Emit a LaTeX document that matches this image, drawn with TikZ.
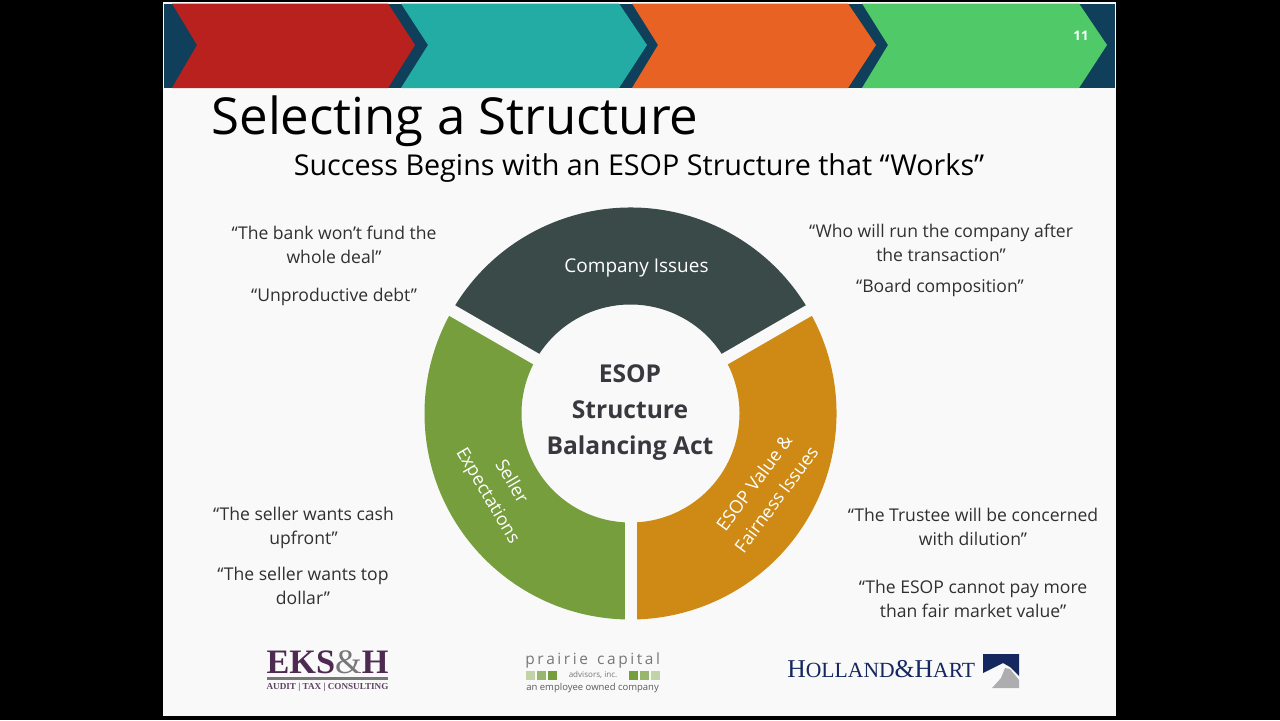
\documentclass[tikz,border=0pt]{standalone}
\usepackage{fontspec}
\setmainfont{Open Sans}
\newfontfamily\logoserif{Liberation Serif}
\usetikzlibrary{positioning,calc}

\definecolor{slidebg}{HTML}{F9F9F9}
\definecolor{chevdark}{HTML}{0F3F5A}
\definecolor{chevred}{HTML}{B9211F}
\definecolor{chevteal}{HTML}{23ACA4}
\definecolor{chevorange}{HTML}{E86223}
\definecolor{chevgreen}{HTML}{50C968}
\definecolor{ringdark}{HTML}{3A4A48}
\definecolor{ringgreen}{HTML}{769E3C}
\definecolor{ringorange}{HTML}{CE8A14}
\definecolor{quotetext}{HTML}{303030}
\definecolor{hubtext}{HTML}{38383E}
\definecolor{ekspurple}{HTML}{4E2A52}
\definecolor{logogray}{HTML}{77777A}
\definecolor{hhnavy}{HTML}{14275E}

\tikzset{
    quote/.style={text=quotetext, align=center, font=\fontsize{10}{13.6}\selectfont, inner sep=0pt},
    ringlabel/.style={text=white, align=center, font=\fontsize{10.3}{15.6}\selectfont, inner sep=0pt},
    hublabel/.style={text=hubtext, align=center, font=\fontsize{14}{20.5}\selectfont\bfseries, inner sep=0pt},
    gapline/.style={slidebg, line width=12*0.02cm},
    logotext/.style={inner sep=0pt}
}

\begin{document}
\begin{tikzpicture}[x=0.02cm, y=-0.02cm]

        \def\rin{109}
        \def\rout{206}

        \useasboundingbox (0, 0) rectangle (1280, 720);
        \fill[black] (0, 0) rectangle (1280, 720);
        \fill[slidebg] (163, 2) rectangle (1116, 716);

        % Banner along the top of the slide
        \fill[chevdark] (164, 3.5) rectangle (1115, 88);
        \fill[chevred] (172, 3.5) -- (388, 3.5) -- (415, 45) -- (388, 88) -- (172, 88) -- (197, 45) -- cycle;
        \fill[chevteal] (401, 3.5) -- (619, 3.5) -- (647, 45) -- (619, 88) -- (401, 88) -- (428, 45) -- cycle;
        \fill[chevorange] (632, 3.5) -- (848, 3.5) -- (876, 45) -- (848, 88) -- (632, 88) -- (658, 45) -- cycle;
        \fill[chevgreen] (862, 3.5) -- (1079, 3.5) -- (1107, 45) -- (1079, 88) -- (862, 88) -- (888, 45) -- cycle;
        \node[text=white, font=\fontsize{7.5}{9}\selectfont\bfseries, inner sep=0pt] (pagenum) at (1081, 35.5) {11};

        \node[inner sep=0pt, text=black, font=\fontsize{29}{32}\selectfont] (title) at (455, 121) {Selecting a Structure};
        \node[inner sep=0pt, text=black, font=\fontsize{16.35}{18}\selectfont] (subtitle) at (639, 168) {Success Begins with an ESOP Structure that “Works”};

        % Ring around the hub (y runs downwards, so angles turn clockwise)
        \coordinate (hub) at (630.5, 413.5);
        \begin{scope}
            \fill[ringdark] ($(hub)+(210:\rout)$) arc[start angle=210, end angle=330, radius=\rout]
                -- ($(hub)+(330:\rin)$) arc[start angle=330, end angle=210, radius=\rin] -- cycle;
            \fill[ringgreen] ($(hub)+(90:\rout)$) arc[start angle=90, end angle=210, radius=\rout]
                -- ($(hub)+(210:\rin)$) arc[start angle=210, end angle=90, radius=\rin] -- cycle;
            \fill[ringorange] ($(hub)+(-30:\rout)$) arc[start angle=-30, end angle=90, radius=\rout]
                -- ($(hub)+(90:\rin)$) arc[start angle=90, end angle=-30, radius=\rin] -- cycle;
        \end{scope}

        \begin{scope}
            \draw[gapline] ($(hub)+(90:\rin-3)$) -- ($(hub)+(90:\rout+3)$);
            \draw[gapline] ($(hub)+(210:\rin-3)$) -- ($(hub)+(210:\rout+3)$);
            \draw[gapline] ($(hub)+(330:\rin-3)$) -- ($(hub)+(330:\rout+3)$);
        \end{scope}

        \node[ringlabel, font=\fontsize{10.8}{13.6}\selectfont] (company) at (636.5, 267.5) {Company Issues};
        \node[ringlabel, rotate=-59.5] (seller) at (499, 489) {Seller\\Expectations};
        \node[ringlabel, rotate=53.5] (fairness) at (765, 491) {ESOP Value \&\\Fairness Issues};
        \node[hublabel] (balance) at (630, 412.5) {ESOP\\Structure\\Balancing Act};

        % Quotes in the four corners
        \node[quote] (bank) at (334, 244.5) {“The bank won’t fund the\\whole deal”};
        \node[quote] (debt) at (334, 297) {“Unproductive debt”};
        \node[quote] (run) at (941, 243) {“Who will run the company after\\the transaction”};
        \node[quote] (board) at (940, 288) {“Board composition”};
        \node[quote] (cash) at (303.5, 528) {“The seller wants cash\\upfront”};
        \node[quote] (dollar) at (303, 586) {“The seller wants top\\dollar”};
        \node[quote] (trustee) at (973, 527) {“The Trustee will be concerned\\with dilution”};
        \node[quote] (value) at (973, 599) {“The ESOP cannot pay more\\than fair market value”};

        % Logos along the bottom
        \node[logotext, text=ekspurple, font=\logoserif\fontsize{19.5}{20}\selectfont\bfseries] (eksh) at (327.5, 662)
            {EKS{\color{logogray}\fontseries{m}\selectfont\&}H};
        \fill[logogray] (267, 677) rectangle (388, 680);
        \node[logotext, text=ekspurple!70!gray, font=\logoserif\fontsize{5.2}{6}\selectfont\bfseries] (audit) at (327.5, 687)
            {AUDIT | TAX | CONSULTING};

        \node[logotext, text=logogray, font=\fontsize{8.8}{10}\selectfont, anchor=west] (prairie) at (525, 660)
            {p\,r\,a\,i\,r\,i\,e\, \,c\,a\,p\,i\,t\,a\,l};
        \node[logotext, text=logogray, font=\fontsize{4.6}{6}\selectfont] (advisors) at (593, 675) {advisors, inc.};
        \node[logotext, text=quotetext!80, font=\fontsize{5.4}{6}\selectfont, anchor=west] (owned) at (526, 688)
            {an employee owned company};
        \fill[ringgreen!45] (526, 671) rectangle (535, 680);
        \fill[ringgreen!75] (537, 671) rectangle (546, 680);
        \fill[ringgreen] (548, 671) rectangle (557, 680);
        \fill[ringgreen] (629, 671) rectangle (638, 680);
        \fill[ringgreen!75] (640, 671) rectangle (649, 680);
        \fill[ringgreen!45] (651, 671) rectangle (660, 680);

        \node[logotext, text=hhnavy, font=\logoserif\fontsize{14.6}{16}\selectfont, anchor=west] (holland) at (787, 669.5)
            {H\fontsize{12.3}{16}\selectfont OLLAND\fontsize{14.6}{16}\selectfont\&H\fontsize{12.3}{16}\selectfont ART};
        \fill[hhnavy] (983, 654) -- (1019, 654) -- (1019, 676) -- (1010, 667) -- (1003, 663) -- (983, 673) -- cycle;
        \fill[logogray!60] (992, 688) -- (1001, 678) -- (1005, 668) -- (1010, 669) -- (1019, 680) -- (1019, 688) -- cycle;

\end{tikzpicture}
\end{document}
